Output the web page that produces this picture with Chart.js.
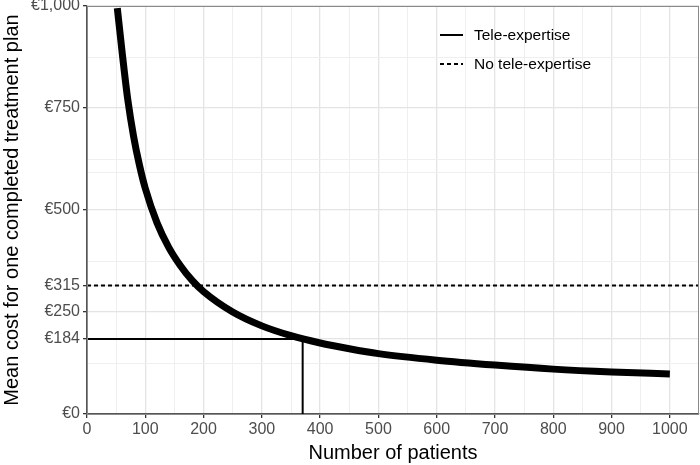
<!DOCTYPE html>
<html>
<head>
<meta charset="utf-8">
<script src="https://cdn.jsdelivr.net/npm/chart.js@4.4.1/dist/chart.umd.min.js"></script>
<style>
  html, body { margin: 0; padding: 0; background: #fff; }
  #myChart { display: block; }
</style>
</head>
<body>
<canvas id="myChart" width="700" height="465"></canvas>
<script>
// values
const patients = [52, 60, 70, 80, 90, 100, 120, 140, 160, 180, 200, 250, 300, 350, 400, 450, 500, 600, 700, 800, 900, 1000];
const meanCost = [995, 890, 770, 680, 610, 553, 469, 409, 364, 328, 300, 250, 216, 192, 174, 160, 148, 132, 120, 110, 103, 98];

const teleX = [0, 370, 370];
const teleY = [184, 184, 0];
const noTeleX = [0, 1050];
const noTeleY = [315, 315];

const xMajor = [0, 100, 200, 300, 400, 500, 600, 700, 800, 900, 1000];
const xMinor = [50, 150, 250, 350, 450, 550, 650, 750, 850, 950];
const yMajor = [0, 184, 250, 315, 500, 750, 1000];
const yMajorLabels = ['€0', '€184', '€250', '€315', '€500', '€750', '€1,000'];
const yMinor = [125, 375, 592, 625, 875];

const FONT = '"Liberation Sans", Arial, Helvetica, sans-serif';

function pts(xs, ys) {
    return xs.map((x, i) => ({ x: x, y: ys[i] }));
}

const panelBorder = {
    id: 'panel_border',
    afterDatasetsDraw: (chart) => {
        const c = chart.ctx;
        const a = chart.chartArea;
        c.save();
        c.strokeStyle = '#8a8a8a';
        c.lineWidth = 1;
        c.strokeRect(a.left + 0.5, a.top + 0.5, a.right - a.left - 1, a.bottom - a.top);
        c.restore();
    }
};

// legend inside the panel, top right
const legendInside = {
    id: 'legend_inside',
    afterDraw: (chart) => {
        const c = chart.ctx;
        let y = 35;
        c.save();
        chart.data.datasets.forEach(function(ds) {
            if (!ds.label) return;
            c.strokeStyle = ds.borderColor;
            c.lineWidth = ds.borderWidth;
            c.setLineDash(ds.borderDash || []);
            c.beginPath();
            c.moveTo(440, y);
            c.lineTo(463, y);
            c.stroke();
            c.setLineDash([]);
            c.fillStyle = '#000';
            c.font = '15.5px ' + FONT;
            c.textBaseline = 'middle';
            c.fillText(ds.label, 474, y + 1);
            y += 29;
        });
        c.restore();
    }
};

const ctx = document.getElementById('myChart');

const majorOrMinor = (list, a, b) => (c) => list.indexOf(c.tick.value) >= 0 ? a : b;

const myChart = new Chart(ctx, {
    type: 'line',
    data: {
        datasets: [
            {
                label: '',
                data: pts(patients, meanCost),
                borderColor: '#000',
                borderWidth: 7,
                borderCapStyle: 'butt',
                cubicInterpolationMode: 'monotone',
                pointRadius: 0,
                fill: false
            },
            {
                label: 'Tele-expertise',
                data: pts(teleX, teleY),
                borderColor: '#000',
                borderWidth: 2,
                pointRadius: 0,
                tension: 0,
                fill: false
            },
            {
                label: 'No tele-expertise',
                data: pts(noTeleX, noTeleY),
                borderColor: '#000',
                borderWidth: 1.8,
                borderDash: [4, 3],
                pointRadius: 0,
                tension: 0,
                fill: false
            }
        ]
    },
    options: {
        responsive: false,
        devicePixelRatio: 1,
        animation: false,
        layout: { padding: { top: 6, right: 1, left: 0, bottom: 0 } },
        plugins: {
            legend: { display: false },
            tooltip: { enabled: false }
        },
        scales: {
            x: {
                type: 'linear',
                min: 0,
                max: 1050,
                afterBuildTicks: function(scale) {
                    scale.ticks = xMajor.concat(xMinor).sort((a, b) => a - b).map(v => ({ value: v }));
                },
                afterFit: function(scale) {
                    scale.height = 51;
                    scale.paddingLeft = 0;
                    scale.paddingRight = 0;
                },
                ticks: {
                    autoSkip: false,
                    maxRotation: 0,
                    padding: 2,
                    color: '#4d4d4d',
                    font: { family: FONT, size: 16 },
                    callback: function(value) {
                        return xMajor.indexOf(value) >= 0 ? String(value) : '';
                    }
                },
                grid: {
                    color: majorOrMinor(xMajor, '#e4e4e4', '#efefef'),
                    lineWidth: majorOrMinor(xMajor, 1.3, 1),
                    tickColor: majorOrMinor(xMajor, '#333', 'rgba(0,0,0,0)'),
                    tickLength: 4
                },
                border: { color: '#555', width: 1.2 },
                title: {
                    display: true,
                    text: 'Number of patients',
                    color: '#000',
                    font: { family: FONT, size: 20 },
                    padding: { top: 0, bottom: 0 }
                }
            },
            y: {
                type: 'linear',
                min: 0,
                max: 1000,
                afterBuildTicks: function(scale) {
                    scale.ticks = yMajor.concat(yMinor).sort((a, b) => a - b).map(v => ({ value: v }));
                },
                afterFit: function(scale) {
                    scale.width = 87;
                    scale.paddingTop = 0;
                    scale.paddingBottom = 0;
                },
                ticks: {
                    autoSkip: false,
                    padding: 3,
                    color: '#4d4d4d',
                    font: { family: FONT, size: 16 },
                    callback: function(value) {
                        const i = yMajor.indexOf(value);
                        return i >= 0 ? yMajorLabels[i] : '';
                    }
                },
                grid: {
                    color: majorOrMinor(yMajor, '#e4e4e4', '#efefef'),
                    lineWidth: majorOrMinor(yMajor, 1.3, 1),
                    tickColor: majorOrMinor(yMajor, '#333', 'rgba(0,0,0,0)'),
                    tickLength: 4
                },
                border: { color: '#555', width: 1.2 },
                title: {
                    display: true,
                    text: 'Mean cost for one completed treatment plan',
                    color: '#000',
                    font: { family: FONT, size: 20 },
                    padding: { top: 0, bottom: 0 }
                }
            }
        }
    },
    plugins: [panelBorder, legendInside]
});
</script>
</body>
</html>
